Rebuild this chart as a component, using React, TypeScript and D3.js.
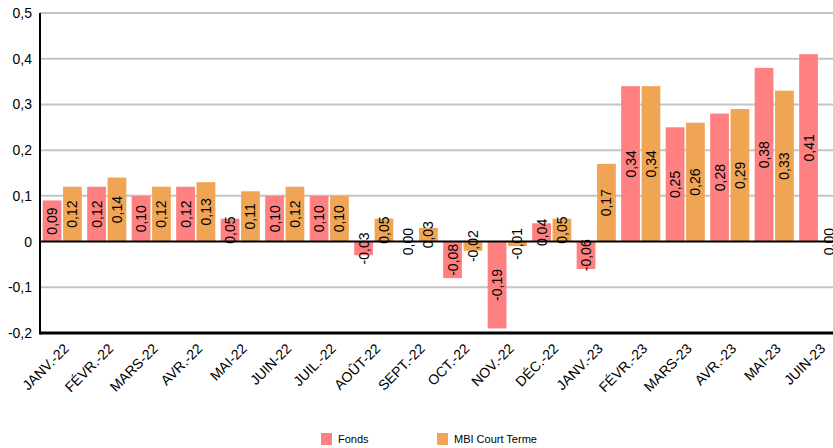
import * as d3 from 'd3';
import React from 'react';

const months = [
  'JANV.-22', 'FÉVR.-22', 'MARS-22', 'AVR.-22', 'MAI-22', 'JUIN-22',
  'JUIL.-22', 'AOÛT-22', 'SEPT.-22', 'OCT.-22', 'NOV.-22', 'DÉC.-22',
  'JANV.-23', 'FÉVR.-23', 'MARS-23', 'AVR.-23', 'MAI-23', 'JUIN-23',
];
const fonds = [0.09, 0.12, 0.10, 0.12, 0.05, 0.10, 0.10, -0.03, 0.00, -0.08, -0.19, 0.04, -0.06, 0.34, 0.25, 0.28, 0.38, 0.41];
const mbi = [0.12, 0.14, 0.12, 0.13, 0.11, 0.12, 0.10, 0.05, 0.03, -0.02, -0.01, 0.05, 0.17, 0.34, 0.26, 0.29, 0.33, 0.00];
const seriesNames = ['Fonds', 'MBI Court Terme'];
const colors = ['#ff8080', '#f0a555'];
const yTicks = [-0.2, -0.1, 0, 0.1, 0.2, 0.3, 0.4, 0.5];

const W = 833;
const H = 448;
const left = 40;
const top = 13;
const bottom = 333;
const font = '"Liberation Sans", Arial, sans-serif';

const fmt = (v: number, d: number) => v.toFixed(d).replace('.', ',');

const App: React.FC = () => {
  const x0 = d3.scaleBand<string>().domain(months).range([left, left + 18 * 44.5]).paddingInner(0.12).paddingOuter(0.06);
  const x1 = d3.scaleBand<string>().domain(seriesNames).range([0, x0.bandwidth()]).paddingInner(0.08);
  const y = d3.scaleLinear().domain([-0.2, 0.5]).range([bottom, top]);
  const values = [fonds, mbi];

  return (
    <svg width={W} height={H} style={{ position: 'absolute', left: 0, top: 0 }} fontFamily={font}>
      {yTicks.filter(t => t !== 0 && t !== -0.2).map(t => (
        <line key={t} x1={left} x2={W} y1={y(t)} y2={y(t)} stroke="#c4c4c4" strokeWidth={2} />
      ))}
      {yTicks.map(t => (
        <text key={'l' + t} x={32} y={y(t)} textAnchor="end" dominantBaseline="central" fontSize={14} fill="#000">
          {t === 0 ? '0' : fmt(t, 1)}
        </text>
      ))}
      {months.map((m, i) => (
        <g key={m} transform={`translate(${x0(m)},0)`}>
          {seriesNames.map((s, j) => {
            const v = values[j][i];
            const y0 = y(0);
            const yv = y(v);
            return (
              <rect key={s} x={x1(s)} width={x1.bandwidth()} y={Math.min(y0, yv)} height={Math.abs(yv - y0)} fill={colors[j]} />
            );
          })}
        </g>
      ))}
      <line x1={left} x2={W} y1={y(0)} y2={y(0)} stroke="#000" strokeWidth={2} />
      <line x1={left} x2={W} y1={bottom} y2={bottom} stroke="#000" strokeWidth={3} />
      <line x1={left} x2={left} y1={top} y2={bottom + 1.5} stroke="#000" strokeWidth={2} />
      {months.map((m, i) => (
        <g key={'v' + m} transform={`translate(${x0(m)},0)`}>
          {seriesNames.map((s, j) => {
            const v = values[j][i];
            const cx = (x1(s) ?? 0) + x1.bandwidth() / 2;
            const cy = (y(0) + y(v)) / 2;
            return (
              <text key={s} transform={`translate(${cx},${cy}) rotate(-90)`} textAnchor="middle" dominantBaseline="central" fontSize={14} fill="#000">
                {fmt(v, 2)}
              </text>
            );
          })}
        </g>
      ))}
      {months.map(m => {
        const cx = (x0(m) ?? 0) + x0.bandwidth() / 2 + 4;
        return (
          <text key={'x' + m} transform={`translate(${cx},${bottom + 13}) rotate(-45)`} textAnchor="end" dominantBaseline="central" fontSize={14} fill="#000">
            {m}
          </text>
        );
      })}
      {seriesNames.map((s, j) => {
        const lx = j === 0 ? 321 : 437;
        return (
          <g key={'lg' + s}>
            <rect x={lx} y={433} width={11} height={12} fill={colors[j]} />
            <text x={lx + 17} y={439} dominantBaseline="central" fontSize={11} fill="#000">{s}</text>
          </g>
        );
      })}
    </svg>
  );
};

export default App;
